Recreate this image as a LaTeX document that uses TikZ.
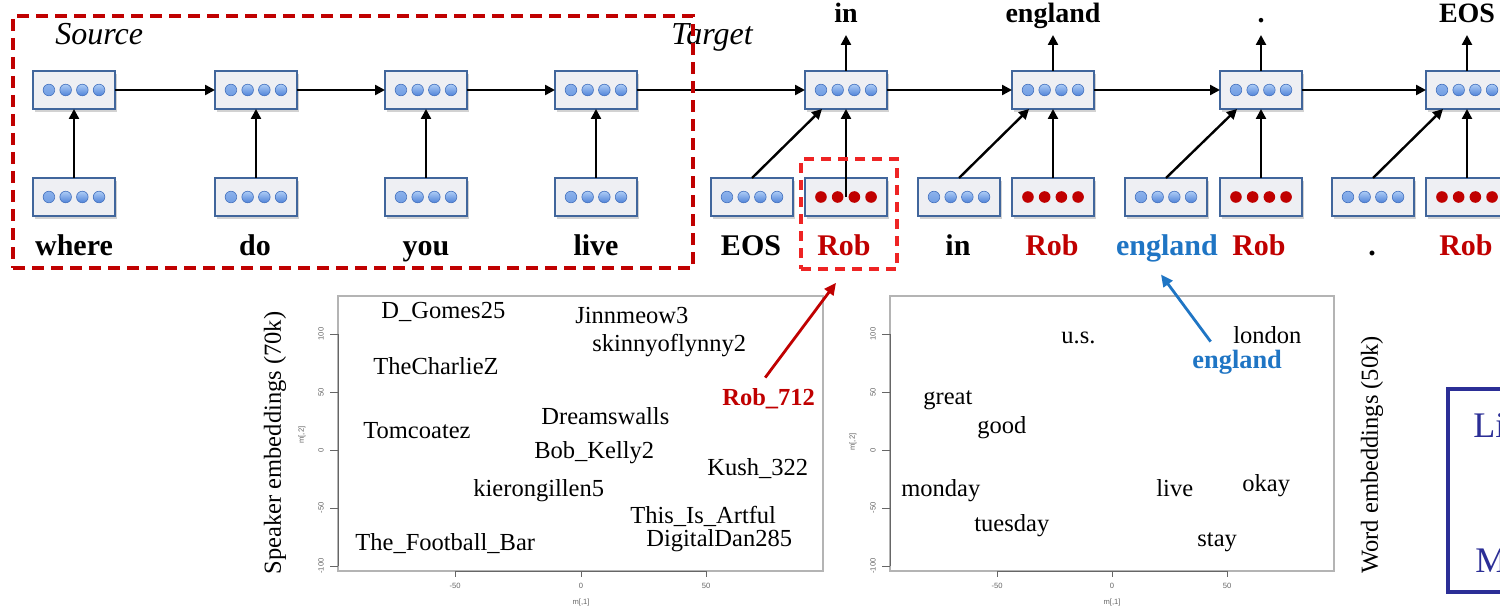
\documentclass[tikz,border=0pt]{standalone}
\usepackage{fontspec}
\setmainfont{Liberation Serif}
\setsansfont{Liberation Sans}
\usetikzlibrary{arrows.meta,shadows}

\definecolor{darkred}{HTML}{C00000}
\definecolor{selred}{HTML}{EE2424}
\definecolor{wordblue}{HTML}{1F75C4}
\definecolor{cellline}{HTML}{41669C}
\definecolor{cellfill}{HTML}{EEEFF3}
\definecolor{dotlight}{HTML}{AECDF6}
\definecolor{dotdark}{HTML}{4F82D8}
\definecolor{dotline}{HTML}{4270BE}
\definecolor{framegray}{HTML}{B4B4B4}
\definecolor{axisgray}{HTML}{666666}
\definecolor{navy}{HTML}{2B2E96}

\begin{document}
\begin{tikzpicture}[x=0.5pt,y=-0.5pt,
  cell/.style={draw=cellline, line width=0.6pt, fill=cellfill,
    minimum width=41pt, minimum height=19pt, inner sep=0pt, outer sep=0pt,
    drop shadow={shadow xshift=1pt, shadow yshift=-1.5pt, opacity=0.35}},
  blue cell/.style={cell, path picture={
    \foreach \k in {-1.5,-0.5,0.5,1.5}{
      \shadedraw[top color=dotlight, bottom color=dotdark, draw=dotline, line width=0.3pt]
        ([xshift=\k*8.35pt]path picture bounding box.center) circle[radius=2.9pt];}}},
  red cell/.style={cell, path picture={
    \foreach \k in {-1.5,-0.5,0.5,1.5}{
      \fill[darkred] ([xshift=\k*8.35pt]path picture bounding box.center) circle[radius=2.9pt];}}},
  arr/.style={-{Triangle[length=5pt,width=5pt]}, line width=1.2pt, black},
  word/.style={font=\fontsize{15}{18}\selectfont\bfseries, inner sep=1pt, anchor=base},
  outword/.style={font=\fontsize{14}{17}\selectfont\bfseries, inner xsep=1pt, inner ysep=6pt,
    text depth=0pt, anchor=south},
  stage/.style={font=\fontsize{16}{19}\selectfont\itshape, inner sep=0pt, anchor=base west},
  plotword/.style={font=\fontsize{12.25}{14}\selectfont, inner sep=0pt, anchor=west,
    text height=8pt, text depth=0pt},
  ticklab/.style={font=\sffamily\fontsize{3.8}{4.5}\selectfont, text=axisgray, inner sep=0pt},
  axistitle/.style={font=\fontsize{12.25}{14}\selectfont, inner sep=0pt, rotate=90},
  frameline/.style={draw=framegray, line width=0.8pt},
  axisline/.style={draw=axisgray, line width=0.5pt},
  bigbox/.style={draw=darkred, line width=2pt, dash pattern=on 6pt off 3.5pt, inner sep=0pt},
  selbox/.style={draw=selred, line width=1.8pt, dash pattern=on 5pt off 3.5pt, inner sep=0pt},
]
\useasboundingbox (0,0) rectangle (1500,610);
\fill[white] (0,0) rectangle (1500,610);
\clip (0,0) rectangle (1500,610);

% stage captions
\node[stage] (src) at (55,45) {Source};
\node[stage] (tgt) at (671,45) {Target};

% recurrent hidden states
\foreach \n/\x in {h1/74,h2/256,h3/426,h4/596,h5/846,h6/1053,h7/1261,h8/1467}
  \node[blue cell] (\n) at (\x,90) {};

% source word embeddings
\foreach \n/\x in {x1/74,x2/256,x3/426,x4/596}
  \node[blue cell] (\n) at (\x,197) {};

% target word and speaker embeddings
\foreach \n/\x in {w1/752,w2/959,w3/1166,w4/1373}
  \node[blue cell] (\n) at (\x,197) {};
\foreach \n/\x in {s1/846,s2/1053,s3/1261,s4/1467}
  \node[red cell] (\n) at (\x,197) {};

% input words
\node[word] (l1) at (74,256) {where};
\node[word] (l2) at (255,256) {do};
\node[word] (l3) at (426,256) {you};
\node[word] (l4) at (596,256) {live};
\node[word] (l5) at (751,256) {EOS};
\node[word, text=darkred] (l6) at (844,256) {Rob};
\node[word] (l7) at (958,256) {in};
\node[word, text=darkred] (l8) at (1052,256) {Rob};
\node[word, text=wordblue] (lEng) at (1167,256) {england};
\node[word, text=darkred] (l10) at (1259,256) {Rob};
\node[word] (l11) at (1372,256) {.};
\node[word, text=darkred] (l12) at (1466,256) {Rob};

% output words
\node[outword] (t5) at (846,35) {in};
\node[outword] (t6) at (1053,35) {england};
\node[outword] (t7) at (1261,35) {.};
\node[outword] (t8) at (1467,35) {EOS};

% recurrence
\foreach \a/\b in {h1/h2,h2/h3,h3/h4,h4/h5,h5/h6,h6/h7,h7/h8}
  \draw[arr] (\a.east) -- (\b.west);
% source inputs
\foreach \i in {1,...,4}
  \draw[arr] (x\i.north) -- (h\i.south);
% target word inputs
\draw[arr] (w1.north) -- ([xshift=8.5pt]h5.south west);
\draw[arr] (w2.north) -- ([xshift=8.5pt]h6.south west);
\draw[arr] (w3.north) -- ([xshift=8.5pt]h7.south west);
\draw[arr] (w4.north) -- ([xshift=8.5pt]h8.south west);
% speaker inputs
\draw[arr] (s1.center) -- (h5.south);
\draw[arr] (s2.north) -- (h6.south);
\draw[arr] (s3.north) -- (h7.south);
\draw[arr] (s4.north) -- (h8.south);
% outputs
\foreach \i in {5,...,8}
  \draw[arr] (h\i.north) -- (t\i.south);

% encoder frame and selected speaker
\node[bigbox, minimum width=340pt, minimum height=126pt] (srcbox) at (353,142) {};
\node[selbox, minimum width=48pt, minimum height=55pt] (robsel) at (849,214) {};

% ---------- speaker embedding plot ----------
\draw[frameline] (338,296) rectangle (823,571);
\draw[axisline] (338,334) -- (338,566);
\foreach \y/\v in {334/100,392/50,450/0,508/-50,566/-100}{
  \draw[axisline] (338,\y) -- (330,\y);
  \node[ticklab, rotate=90] at (321,\y) {\v};}
\draw[axisline] (455,571) -- (706,571);
\foreach \x/\v in {455/-50,581/0,706/50}{
  \draw[axisline] (\x,571) -- (\x,577);
  \node[ticklab] at (\x,586) {\v};}
\node[ticklab] at (581,603) {m[,1]};
\node[ticklab, rotate=90] at (302,435) {m[,2]};
\node[axistitle] (spk) at (275,443) {Speaker embeddings (70k)};

\node[plotword] at (381,310) {D\_Gomes25};
\node[plotword] at (373,366) {TheCharlieZ};
\node[plotword] at (363,430) {Tomcoatez};
\node[plotword] at (473,488) {kierongillen5};
\node[plotword] at (355,542) {The\_Football\_Bar};
\node[plotword] at (541,416) {Dreamswalls};
\node[plotword] at (534,450) {Bob\_Kelly2};
\node[plotword] at (575,315) {Jinnmeow3};
\node[plotword] at (592,343) {skinnyoflynny2};
\node[plotword, font=\fontsize{12.25}{14}\selectfont\bfseries, text=darkred] (rob712) at (722,397) {Rob\_712};
\node[plotword] at (707,467) {Kush\_322};
\node[plotword] at (630,515) {This\_Is\_Artful};
\node[plotword] at (646,538) {DigitalDan285};

% ---------- word embedding plot ----------
\draw[frameline] (890,296) rectangle (1334,571);
\draw[axisline] (890,334) -- (890,566);
\foreach \y/\v in {334/100,392/50,450/0,508/-50,566/-100}{
  \draw[axisline] (890,\y) -- (882,\y);
  \node[ticklab, rotate=90] at (873,\y) {\v};}
\draw[axisline] (997,571) -- (1227,571);
\foreach \x/\v in {997/-50,1112/0,1227/50}{
  \draw[axisline] (\x,571) -- (\x,577);
  \node[ticklab] at (\x,586) {\v};}
\node[ticklab] at (1112,603) {m[,1]};
\node[ticklab, rotate=90] at (853,442) {m[,2]};
\node[axistitle] (wrd) at (1372,455) {Word embeddings (50k)};

\node[plotword] at (1061,335) {u.s.};
\node[plotword] at (923,396) {great};
\node[plotword] at (977,425) {good};
\node[plotword] at (901,488) {monday};
\node[plotword] at (974,523) {tuesday};
\node[plotword] at (1233,335) {london};
\node[plotword, font=\fontsize{13.2}{15}\selectfont\bfseries, text=wordblue] (engplot) at (1192,360) {england};
\node[plotword] at (1156,488) {live};
\node[plotword] at (1242,483) {okay};
\node[plotword] at (1197,538) {stay};

% links from the plots to the sequence
\draw[darkred, line width=1.4pt, -{Triangle[length=6pt,width=5.5pt]}]
  ([xshift=-1.75pt,yshift=5.5pt]rob712.north) -- ([xshift=-6.5pt,yshift=-6pt]robsel.south);
\draw[wordblue, line width=1.4pt, -{Triangle[length=6pt,width=5.5pt]}]
  ([xshift=-13.25pt,yshift=5pt]engplot.north) -- ([xshift=-3pt,yshift=-4.75pt]lEng.south);

% side panel, running off the right edge
\draw[navy, line width=2pt] (1448,389) rectangle (1530,592);
\node[font=\fontsize{18}{21}\selectfont, text=navy, inner sep=0pt, anchor=base west] (li) at (1473,437) {Li};
\node[font=\fontsize{18}{21}\selectfont, text=navy, inner sep=0pt, anchor=base west] (mm) at (1475,572) {M};
\end{tikzpicture}
\end{document}
